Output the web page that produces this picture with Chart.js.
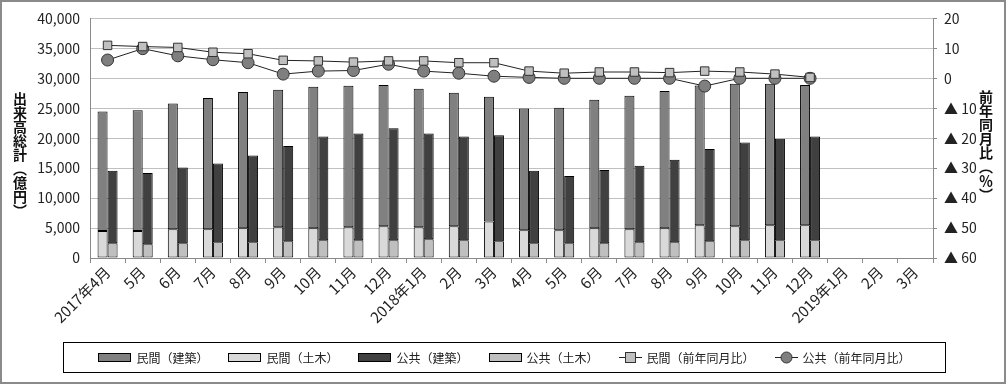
<!DOCTYPE html>
<html lang="ja">
<head>
  <meta charset="UTF-8" />
  <title>出来高総計</title>
  <script src="https://cdn.jsdelivr.net/npm/chart.js"></script>
  <style>
    body { margin: 0; background: #fff; font-family: "Noto Sans CJK JP", sans-serif; }
    #wrap { position: relative; width: 1006px; height: 384px; }
    #frame { position: absolute; left: 0; top: 0; width: 1006px; height: 384px; border: 2px solid #8a8a8a; box-sizing: border-box; pointer-events: none; }
    .vtitle { position: absolute; writing-mode: vertical-rl; font-weight: bold; font-size: 14px; color: #111; line-height: 14px; }
    #legend { position: absolute; left: 63px; top: 342px; width: 883px; height: 31px; border: 1px solid #000; box-sizing: border-box;
      display: flex; align-items: center; justify-content: center; gap: 20px; font-size: 12px; color: #222; }
    .item { display: flex; align-items: center; gap: 5px; }
    .sw { width: 33px; height: 9px; border: 1px solid #000; box-sizing: border-box; }
  </style>
</head>
<body>
  <div id="wrap">
    <canvas id="chart" width="1006" height="384"></canvas>
    <div class="vtitle" style="left:13px; top:92px;">出来高総計（億円）</div>
    <div class="vtitle" style="left:979px; top:90px;">前年同月比（％）</div>
    <div id="legend"></div>
    <div id="frame"></div>
  </div>

  <script>
    const months = ['2017年4月', '5月', '6月', '7月', '8月', '9月', '10月', '11月', '12月',
      '2018年1月', '2月', '3月', '4月', '5月', '6月', '7月', '8月', '9月', '10月', '11月', '12月',
      '2019年1月', '2月', '3月'];

    // 億円
    const privBuild = [19940, 20160, 21000, 21900, 22740, 22980, 23640, 23640, 23610, 23140, 22310, 20800,
      20330, 20470, 21440, 22300, 22940, 23350, 23810, 23650, 23450];
    const privCivil = [4520, 4520, 4800, 4800, 4960, 5120, 4960, 5120, 5290, 5120, 5290, 6100,
      4630, 4630, 4960, 4800, 4960, 5450, 5290, 5450, 5450];
    const pubBuild = [12070, 11890, 12620, 13120, 14460, 15900, 17330, 17830, 18680, 17660, 17330, 17700,
      12070, 11220, 12220, 12760, 13760, 15400, 16330, 16930, 17330];
    const pubCivil = [2480, 2310, 2480, 2640, 2640, 2800, 2970, 2970, 2970, 3140, 2970, 2800,
      2480, 2480, 2480, 2640, 2640, 2800, 2970, 2970, 2970];

    // 前年同月比 (%)
    const privYoY = [11.0, 10.6, 10.3, 8.7, 8.2, 6.0, 5.8, 5.4, 5.8, 5.8, 5.2, 5.2,
      2.4, 1.7, 2.1, 2.1, 1.9, 2.4, 2.1, 1.4, 0.3];
    const pubYoY = [6.1, 9.9, 7.5, 6.2, 5.2, 1.4, 2.4, 2.6, 4.7, 2.4, 1.7, 0.7,
      0.3, 0.0, 0.0, 0.0, 0.0, -2.6, 0.0, 0.0, 0.0];

    const leftTicks = [0, 5000, 10000, 15000, 20000, 25000, 30000, 35000, 40000];
    const rightTicks = [-60, -50, -40, -30, -20, -10, 0, 10, 20];

    const col = {
      privBuild: '#808080', privCivil: '#d9d9d9', pubBuild: '#404040', pubCivil: '#bfbfbf',
      square: '#c0c0c0', circle: '#7f7f7f'
    };

    const font = { family: '"Noto Sans CJK JP", sans-serif', size: 14 };
    const xFont = { family: '"Noto Sans CJK JP", sans-serif', size: 15 };

    function bar(label, data, stack, color) {
      return {
        type: 'bar', label, data, stack, backgroundColor: color,
        borderColor: '#000', borderWidth: 1, borderSkipped: false,
        categoryPercentage: 0.57, barPercentage: 1, order: 2, yAxisID: 'y'
      };
    }

    function line(label, data, style, color, radius) {
      return {
        type: 'line', label, data, yAxisID: 'y2', order: 0,
        borderColor: '#222', borderWidth: 1, tension: 0,
        pointStyle: style, pointRadius: radius, pointBackgroundColor: color,
        pointBorderColor: '#333', pointBorderWidth: 1
      };
    }

    const datasets = [
      bar('民間（土木）', privCivil, 'priv', col.privCivil),
      bar('民間（建築）', privBuild, 'priv', col.privBuild),
      bar('公共（土木）', pubCivil, 'pub', col.pubCivil),
      bar('公共（建築）', pubBuild, 'pub', col.pubBuild),
      line('民間（前年同月比）', privYoY, 'rect', col.square, 6),
      line('公共（前年同月比）', pubYoY, 'circle', col.circle, 6)
    ];

    new Chart(document.getElementById('chart'), {
      data: { labels: months, datasets },
      options: {
        responsive: false,
        animation: false,
        layout: { padding: { left: 0, right: 0, top: 15, bottom: 54 } },
        plugins: { legend: { display: false }, tooltip: { enabled: false } },
        scales: {
          x: {
            stacked: true,
            grid: { display: true, drawOnChartArea: false, offset: true, tickLength: 5, color: '#8a8a8a' },
            border: { color: '#8a8a8a' },
            ticks: { font: xFont, color: '#222', minRotation: 45, maxRotation: 45, autoSkip: false, padding: 0 },
            afterFit: s => { s.height = 72; }
          },
          y: {
            stacked: true, min: 0, max: 40000,
            afterBuildTicks: s => { s.ticks = leftTicks.map(v => ({ value: v })); },
            grid: { color: '#c0c0c0', drawTicks: false },
            border: { color: '#8a8a8a' },
            ticks: { font, color: '#222', padding: 10, callback: v => v.toLocaleString('en-US') },
            afterFit: s => { s.width = 90; }
          },
          y2: {
            position: 'right', min: -60, max: 20,
            afterBuildTicks: s => { s.ticks = rightTicks.map(v => ({ value: v })); },
            grid: { drawOnChartArea: false, tickLength: 4, color: '#8a8a8a' },
            border: { color: '#8a8a8a' },
            ticks: { font, color: '#222', padding: 7, callback: v => v < 0 ? '▲ ' + (-v) : String(v) },
            afterFit: s => { s.width = 73; }
          }
        }
      }
    });

    // legend in the order of the original
    const legendItems = [
      { label: '民間（建築）', kind: 'box', color: col.privBuild },
      { label: '民間（土木）', kind: 'box', color: col.privCivil },
      { label: '公共（建築）', kind: 'box', color: col.pubBuild },
      { label: '公共（土木）', kind: 'box', color: col.pubCivil },
      { label: '民間（前年同月比）', kind: 'rect', color: col.square },
      { label: '公共（前年同月比）', kind: 'circle', color: col.circle }
    ];
    const legend = document.getElementById('legend');
    legendItems.forEach(it => {
      const el = document.createElement('div');
      el.className = 'item';
      let mark;
      if (it.kind === 'box') {
        mark = `<span class="sw" style="background:${it.color}"></span>`;
      } else {
        const shape = it.kind === 'rect'
          ? `<rect x="6.5" y="1.5" width="10" height="10" fill="${it.color}" stroke="#333"/>`
          : `<circle cx="11.5" cy="6.5" r="5.5" fill="${it.color}" stroke="#333"/>`;
        mark = `<svg width="23" height="13"><line x1="0" y1="6.5" x2="23" y2="6.5" stroke="#222"/>${shape}</svg>`;
      }
      el.innerHTML = mark + `<span>${it.label}</span>`;
      legend.appendChild(el);
    });
  </script>
</body>
</html>
